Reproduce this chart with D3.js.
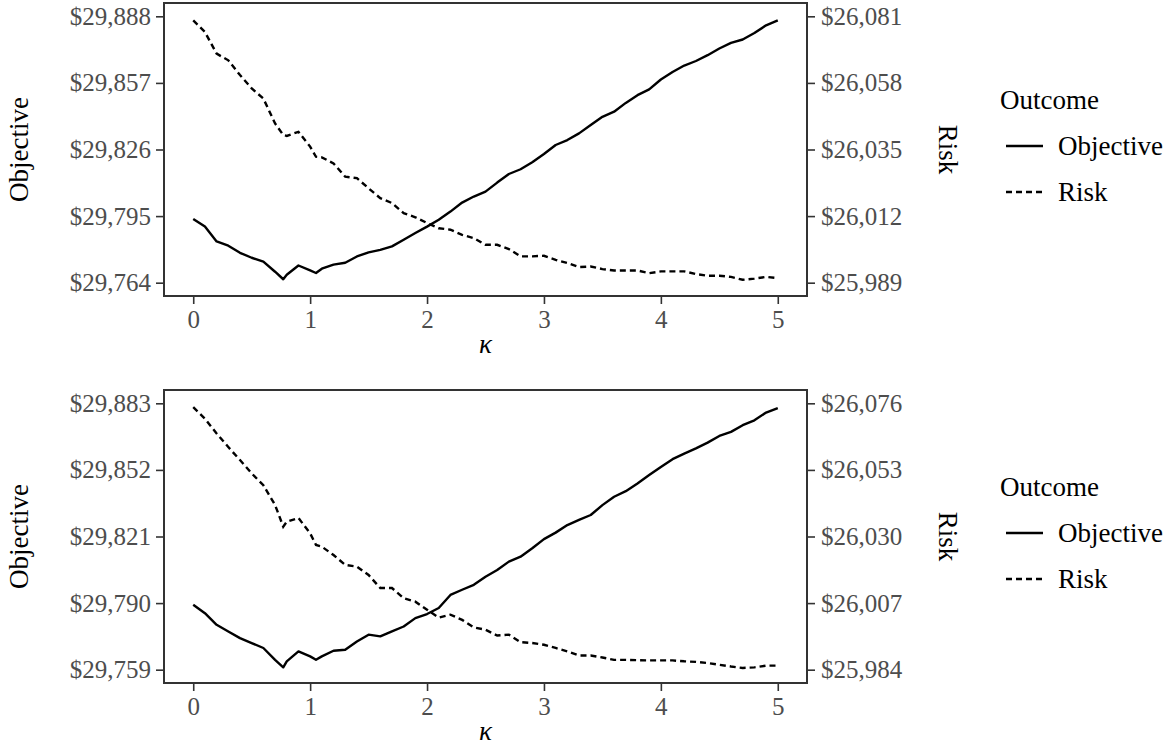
<!DOCTYPE html>
<html>
<head>
<meta charset="utf-8">
<script src="https://cdn.jsdelivr.net/npm/d3@7"></script>
<style>
  body { margin: 0; background: #fff; }
  svg text { font-family: "Liberation Serif", "DejaVu Serif", serif; }
</style>
</head>
<body>
<div id="chart"></div>
<script>
// kappa grid shared by all four series
const kappa = [0, 0.1, 0.2, 0.3, 0.4, 0.5, 0.6, 0.7, 0.77, 0.8, 0.9, 1.0, 1.05, 1.1, 1.2, 1.3, 1.4, 1.5,
  1.6, 1.7, 1.8, 1.9, 2.0, 2.1, 2.2, 2.3, 2.4, 2.5, 2.6, 2.7, 2.8, 2.9, 3.0, 3.1, 3.2, 3.3, 3.4, 3.5,
  3.6, 3.7, 3.8, 3.9, 4.0, 4.1, 4.2, 4.3, 4.4, 4.5, 4.6, 4.7, 4.8, 4.9, 5.0];

// top panel
const objectiveA = [29793.7, 29790.1, 29783.2, 29781.2, 29777.9, 29775.6, 29773.8, 29769.1, 29765.6, 29767.7,
  29772.0, 29769.7, 29768.5, 29770.5, 29772.4, 29773.3, 29776.2, 29778.1, 29779.3, 29780.9, 29784.0,
  29787.1, 29790.1, 29793.3, 29797.1, 29801.3, 29804.1, 29806.4, 29810.6, 29814.6, 29816.8, 29820.1,
  29823.9, 29828.1, 29830.4, 29833.5, 29837.4, 29841.2, 29843.6, 29847.7, 29851.3, 29854.0, 29858.6,
  29862.1, 29865.1, 29867.2, 29869.9, 29873.0, 29875.6, 29877.2, 29880.2, 29883.8, 29886.1];
const riskA = [26079.6, 26075.6, 26068.1, 26065.8, 26060.7, 26056.1, 26052.6, 26044.0, 26040.0, 26039.7,
  26041.1, 26036.0, 26032.5, 26032.3, 26030.2, 26025.6, 26025.1, 26021.6, 26018.2, 26016.5, 26013.0,
  26011.6, 26009.6, 26007.8, 26007.3, 26005.5, 26004.4, 26002.1, 26002.1, 26000.6, 25998.1, 25998.1,
  25998.3, 25996.9, 25995.8, 25994.4, 25994.6, 25993.7, 25993.2, 25993.2, 25993.2, 25992.3, 25992.9,
  25992.9, 25992.9, 25992.0, 25991.4, 25991.4, 25991.0, 25990.0, 25990.4, 25991.0, 25990.6];
const objTicksA = [29764, 29795, 29826, 29857, 29888];
const riskTicksA = [25989, 26012, 26035, 26058, 26081];

// bottom panel
const objectiveB = [29789.2, 29785.3, 29779.9, 29776.8, 29773.7, 29771.4, 29769.1, 29763.6, 29760.1, 29762.9,
  29767.5, 29765.2, 29763.6, 29765.2, 29767.8, 29768.3, 29772.1, 29775.3, 29774.5, 29776.8, 29779.1,
  29783.0, 29784.9, 29787.7, 29793.8, 29796.2, 29798.5, 29802.3, 29805.4, 29809.3, 29811.6, 29815.5,
  29819.8, 29822.8, 29826.3, 29828.7, 29831.0, 29835.6, 29839.5, 29842.1, 29845.7, 29849.6, 29853.4,
  29857.0, 29859.6, 29862.0, 29864.7, 29867.8, 29869.7, 29872.8, 29875.1, 29878.7, 29880.8];
const riskB = [26074.7, 26070.7, 26065.6, 26060.9, 26056.4, 26051.8, 26047.7, 26040.9, 26033.4, 26035.1,
  26036.4, 26031.1, 26027.1, 26026.5, 26023.6, 26020.2, 26019.6, 26016.7, 26012.2, 26012.2, 26008.7,
  26007.5, 26004.7, 26002.0, 26003.0, 26001.2, 25998.6, 25997.8, 25995.8, 25996.1, 25993.5, 25993.2,
  25992.6, 25991.5, 25990.3, 25988.9, 25988.9, 25988.2, 25987.4, 25987.4, 25987.3, 25987.2, 25987.2,
  25987.2, 25986.9, 25986.7, 25986.3, 25985.7, 25985.1, 25984.6, 25984.8, 25985.4, 25985.4];
const objTicksB = [29759, 29790, 29821, 29852, 29883];
const riskTicksB = [25984, 26007, 26030, 26053, 26076];

const xTicks = [0, 1, 2, 3, 4, 5];
const legendLabels = ["Objective", "Risk"];

const width = 1172, height = 746;
const left = 164, right = 807, panelH = 293;
const dash = "6,4";
const dollar = d => "$" + d3.format(",")(d);

const svg = d3.select("#chart").append("svg")
  .attr("width", width)
  .attr("height", height);

// ggplot-style 5% expansion around the data range
function expanded(ticks) {
  let lo = d3.min(ticks), hi = d3.max(ticks), pad = (hi - lo) * 0.05;
  return [lo - pad, hi + pad];
}

const x = d3.scaleLinear().domain([-0.25, 5.25]).range([left, right]);

function drawPanel(top, obj, risk, objTicks, riskTicks) {
  let g = svg.append("g").attr("transform", "translate(0," + top + ")");

  let yObj = d3.scaleLinear().domain(expanded(objTicks)).range([panelH, 0]);
  let yRisk = d3.scaleLinear().domain(expanded(riskTicks)).range([panelH, 0]);

  // left axis
  let la = g.append("g").attr("transform", "translate(" + left + ",0)")
    .call(d3.axisLeft(yObj).tickValues(objTicks).tickFormat(dollar).tickSize(8).tickPadding(5));
  // right axis
  let ra = g.append("g").attr("transform", "translate(" + right + ",0)")
    .call(d3.axisRight(yRisk).tickValues(riskTicks).tickFormat(dollar).tickSize(8).tickPadding(6));
  // bottom axis
  let ba = g.append("g").attr("transform", "translate(0," + panelH + ")")
    .call(d3.axisBottom(x).tickValues(xTicks).tickFormat(d3.format("d")).tickSize(8).tickPadding(6));

  [la, ra, ba].forEach(a => {
    a.select(".domain").remove();
    a.selectAll(".tick line").attr("stroke", "#333").attr("stroke-width", 1.6);
    a.selectAll(".tick text").attr("fill", "#4d4d4d").style("font-size", "25px");
  });

  // lines
  let lineObj = d3.line().x((d, i) => x(kappa[i])).y(d => yObj(d));
  let lineRisk = d3.line().x((d, i) => x(kappa[i])).y(d => yRisk(d));

  g.append("path").datum(obj)
    .attr("d", lineObj)
    .attr("fill", "none").attr("stroke", "#000").attr("stroke-width", 2.4)
    .attr("stroke-linejoin", "round");
  g.append("path").datum(risk)
    .attr("d", lineRisk)
    .attr("fill", "none").attr("stroke", "#000").attr("stroke-width", 2.4)
    .attr("stroke-dasharray", dash);

  // panel border
  g.append("rect")
    .attr("x", left).attr("y", 0)
    .attr("width", right - left).attr("height", panelH)
    .attr("fill", "none").attr("stroke", "#333").attr("stroke-width", 2);

  // axis titles
  g.append("text")
    .attr("transform", "translate(28," + panelH / 2 + ") rotate(-90)")
    .attr("text-anchor", "middle")
    .style("font-size", "27px")
    .text("Objective");
  g.append("text")
    .attr("transform", "translate(939," + panelH / 2 + ") rotate(90)")
    .attr("text-anchor", "middle")
    .style("font-size", "27px")
    .text("Risk");
  g.append("text")
    .attr("x", (left + right) / 2).attr("y", panelH + 57)
    .attr("text-anchor", "middle")
    .style("font-size", "27px").style("font-style", "italic")
    .text("κ");

  // legend
  let lg = g.append("g").attr("transform", "translate(1000,0)");
  lg.append("text").attr("x", 0).attr("y", 106)
    .style("font-size", "27px").text("Outcome");
  legendLabels.forEach((lab, i) => {
    let cy = 143 + i * 46;
    lg.append("line")
      .attr("x1", 6).attr("x2", 43).attr("y1", cy).attr("y2", cy)
      .attr("stroke", "#000").attr("stroke-width", 2.4)
      .attr("stroke-dasharray", i === 1 ? dash : null);
    lg.append("text").attr("x", 58).attr("y", cy + 9)
      .style("font-size", "27px").text(lab);
  });
}

drawPanel(3, objectiveA, riskA, objTicksA, riskTicksA);
drawPanel(390, objectiveB, riskB, objTicksB, riskTicksB);
</script>
</body>
</html>
